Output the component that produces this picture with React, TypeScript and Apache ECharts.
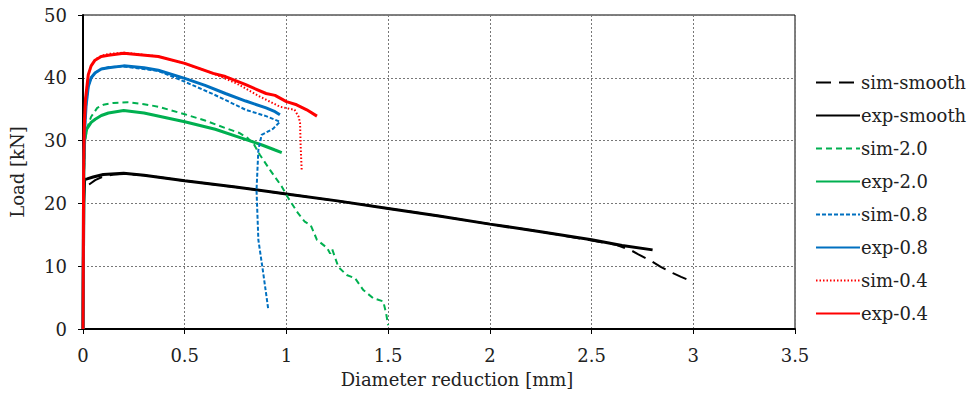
import React, { useEffect, useRef } from "react";
import * as echarts from "echarts";

const xTicks = [0, 0.5, 1, 1.5, 2, 2.5, 3, 3.5];
const yTicks = [0, 10, 20, 30, 40, 50];

const simSmooth: [number, number][] = [
  [0.03, 23.0], [0.06, 23.7], [0.1, 24.3], [0.15, 24.6], [0.2, 24.7], [0.3, 24.5], [0.5, 23.6],
  [0.75, 22.6], [1.0, 21.5], [1.25, 20.4], [1.5, 19.2], [1.75, 18.0], [2.0, 16.7], [2.25, 15.5],
  [2.5, 14.1], [2.62, 13.4], [2.69, 12.6], [2.73, 11.9], [2.8, 10.7], [2.84, 9.9], [2.9, 8.9],
  [2.94, 8.3], [2.97, 7.9], [3.0, 7.2],
];
const expSmooth: [number, number][] = [
  [0, 0], [0.004, 20], [0.008, 23.8], [0.02, 23.9], [0.05, 24.2], [0.1, 24.6], [0.2, 24.8],
  [0.3, 24.5], [0.5, 23.6], [0.75, 22.6], [1.0, 21.5], [1.25, 20.4], [1.5, 19.2], [1.75, 18.0],
  [2.0, 16.7], [2.25, 15.5], [2.5, 14.2], [2.65, 13.3], [2.8, 12.6],
];
const sim20: [number, number][] = [
  [0, 0], [0.005, 25], [0.01, 30], [0.02, 32], [0.04, 33.8], [0.07, 35.2], [0.1, 35.7], [0.15, 36.0],
  [0.22, 36.1], [0.3, 35.8], [0.37, 35.4], [0.5, 34.2], [0.6, 33.2], [0.7, 32.0], [0.77, 31.2],
  [0.81, 30.4], [0.84, 29.4], [0.87, 27.7], [0.92, 25.3], [0.977, 22.7], [1.01, 20.8], [1.058, 18.4],
  [1.09, 17.1], [1.12, 16.5], [1.15, 14.2], [1.2, 12.9], [1.215, 12.0], [1.225, 12.7], [1.255, 9.9],
  [1.296, 8.6], [1.337, 8.1], [1.378, 6.2], [1.427, 4.9], [1.476, 4.4], [1.49, 2.5], [1.5, 0.6],
];
const exp20: [number, number][] = [
  [0, 0], [0.004, 25], [0.008, 30], [0.018, 31.8], [0.04, 32.9], [0.06, 33.4], [0.09, 34.0],
  [0.125, 34.4], [0.2, 34.8], [0.3, 34.4], [0.5, 33.0], [0.65, 31.8], [0.78, 30.4], [0.88, 29.3],
  [0.944, 28.5], [0.977, 28.1],
];
const sim08: [number, number][] = [
  [0, 0], [0.003, 25], [0.007, 31], [0.015, 35.5], [0.026, 38.5], [0.04, 40], [0.06, 40.8],
  [0.09, 41.4], [0.125, 41.7], [0.2, 41.8], [0.37, 41.1], [0.477, 39.7], [0.64, 37.4], [0.8, 34.9],
  [0.9, 33.9], [0.968, 33.0], [0.935, 31.9], [0.878, 30.9], [0.862, 28.5], [0.853, 22.1],
  [0.862, 14.2], [0.886, 8.9], [0.91, 3.3],
];
const exp08: [number, number][] = [
  [0, 0], [0.003, 25], [0.007, 31], [0.015, 35.5], [0.026, 38.6], [0.04, 40.0], [0.06, 40.8],
  [0.09, 41.4], [0.125, 41.6], [0.2, 41.9], [0.3, 41.6], [0.37, 41.2], [0.5, 39.9], [0.6, 38.8],
  [0.7, 37.5], [0.8, 36.3], [0.9, 35.2], [0.944, 34.6], [0.968, 34.1],
];
const sim04: [number, number][] = [
  [0, 0], [0.003, 25], [0.006, 32], [0.012, 36.5], [0.025, 40.2], [0.04, 41.9], [0.06, 42.9],
  [0.09, 43.5], [0.125, 43.8], [0.2, 44.0], [0.37, 43.4], [0.5, 42.3], [0.64, 40.7], [0.755, 39.1],
  [0.87, 37.0], [0.968, 35.4], [1.04, 34.9], [1.06, 33.8], [1.067, 32.8], [1.07, 29.0], [1.075, 25.3],
];
const exp04: [number, number][] = [
  [0, 0], [0.003, 25], [0.006, 32], [0.012, 36.5], [0.026, 40.5], [0.04, 41.9], [0.059, 42.8],
  [0.09, 43.4], [0.125, 43.6], [0.2, 43.9], [0.37, 43.4], [0.5, 42.3], [0.64, 40.7], [0.7, 40.2],
  [0.8, 38.9], [0.9, 37.5], [0.944, 37.2], [1.0, 36.2], [1.05, 35.7], [1.1, 34.9], [1.15, 33.9],
];

const FONT = "DejaVu Serif";

export default function App() {
  const ref = useRef<HTMLDivElement>(null);
  useEffect(() => {
    if (!ref.current) return;
    const chart = echarts.init(ref.current, null, { renderer: "svg" });
    const mk = (name: string, data: [number, number][], color: string, width: number, type: any) => ({
      name,
      type: "line",
      data,
      showSymbol: false,
      symbol: "none",
      lineStyle: { color, width, type, cap: "butt" },
      itemStyle: { color },
    });
    chart.setOption({
      animation: false,
      textStyle: { fontFamily: FONT, color: "#222" },
      grid: {
        left: 83,
        right: 176,
        top: 15,
        bottom: 71,
        show: true,
        borderColor: "#000",
        borderWidth: 1,
        containLabel: false,
      },
      legend: {
        orient: "vertical",
        left: 810,
        top: 67,
        itemWidth: 44,
        itemHeight: 14,
        itemGap: 12,
        itemStyle: { opacity: 0 },
        textStyle: { fontFamily: FONT, fontSize: 18, color: "#222", padding: [0, 0, 0, -4], lineHeight: 21 },
        data: ["sim-smooth", "exp-smooth", "sim-2.0", "exp-2.0", "sim-0.8", "exp-0.8", "sim-0.4", "exp-0.4"],
      },
      xAxis: {
        type: "value",
        min: xTicks[0],
        max: xTicks[xTicks.length - 1],
        interval: 0.5,
        name: "Diameter reduction [mm]",
        nameLocation: "middle",
        nameGap: 41,
        nameTextStyle: { fontFamily: FONT, fontSize: 18, color: "#222", padding: [0, 0, 0, 36] },
        axisLine: { show: true, onZero: false, lineStyle: { color: "#000", width: 2 } },
        axisTick: { show: true, inside: false, length: 5, lineStyle: { color: "#000", width: 1 } },
        axisLabel: { fontFamily: FONT, fontSize: 18, color: "#222", margin: 17 },
        splitLine: { show: true, lineStyle: { color: "#777", type: [2, 2], width: 1 } },
      },
      yAxis: {
        type: "value",
        min: yTicks[0],
        max: yTicks[yTicks.length - 1],
        interval: 10,
        name: "Load [kN]",
        nameLocation: "middle",
        nameGap: 57,
        nameTextStyle: { fontFamily: FONT, fontSize: 18, color: "#222" },
        axisLine: { show: true, onZero: false, lineStyle: { color: "#000", width: 2 } },
        axisTick: { show: true, inside: false, length: 5, lineStyle: { color: "#000", width: 1 } },
        axisLabel: { fontFamily: FONT, fontSize: 18, color: "#222", margin: 16 },
        splitLine: { show: true, lineStyle: { color: "#777", type: [2, 2], width: 1 } },
      },
      series: [
        mk("sim-smooth", simSmooth, "#000000", 2, [15, 8]),
        mk("exp-smooth", expSmooth, "#000000", 3, "solid"),
        mk("sim-2.0", sim20, "#00B050", 2, [6, 4]),
        mk("exp-2.0", exp20, "#00B050", 3, "solid"),
        mk("sim-0.8", sim08, "#0070C0", 2, [4, 2]),
        mk("exp-0.8", exp08, "#0070C0", 3, "solid"),
        mk("sim-0.4", sim04, "#FF0000", 2, [1.5, 2]),
        mk("exp-0.4", exp04, "#FF0000", 3, "solid"),
      ],
    });
    return () => chart.dispose();
  }, []);
  return (
    <div
      ref={ref}
      style={{ position: "fixed", left: 0, top: 0, width: 971, height: 400, background: "#fff" }}
    />
  );
}
